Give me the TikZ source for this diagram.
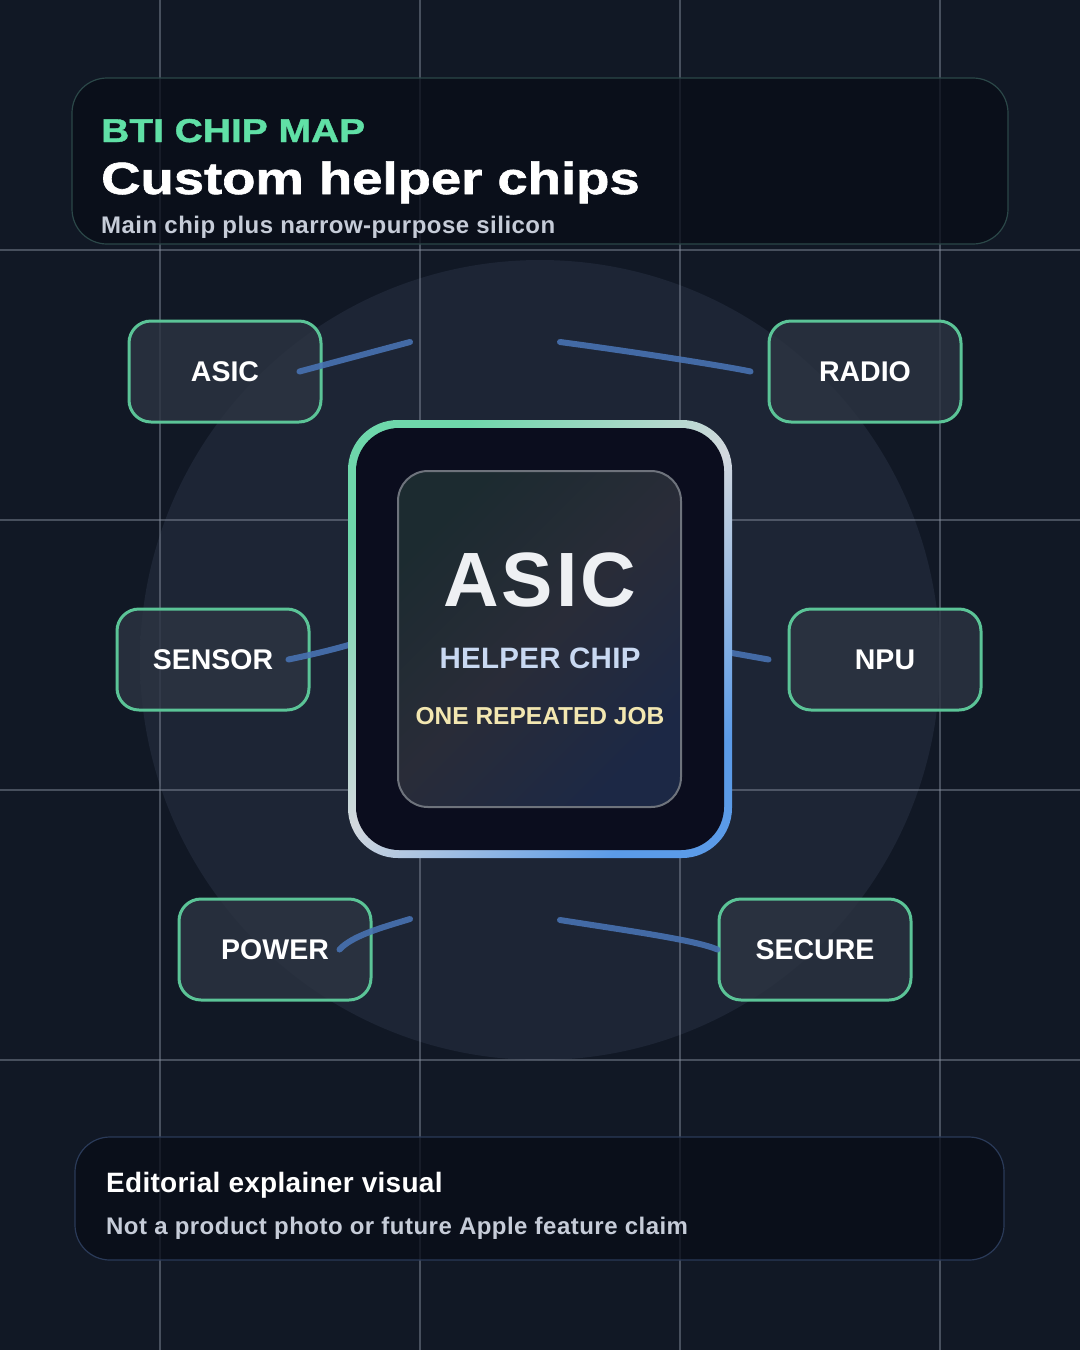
\documentclass[tikz,border=0pt]{standalone}
\usepackage{fontspec}
\setmainfont{Liberation Sans}
\newfontfamily\headfont[FakeStretch=1.18,BoldFeatures={FakeBold=1.2}]{Liberation Sans}
\newfontfamily\titlefont[FakeStretch=1.21,BoldFeatures={FakeBold=1.4}]{Liberation Sans}
\usepackage{tikz}
\usetikzlibrary{calc,shadings}
\usepackage{xcolor}
\definecolor{bgnavy}{HTML}{111825}
\definecolor{glowcore}{HTML}{1D2535}
\definecolor{gridgray}{HTML}{8A93A3}
\definecolor{mint}{HTML}{60E0A6}
\definecolor{softgray}{HTML}{C6CCD8}
\definecolor{panel}{HTML}{080C17}
\definecolor{headedge}{HTML}{2B4748}
\definecolor{footedge}{HTML}{2A3A58}
\definecolor{boxedge}{HTML}{5BC497}
\definecolor{boxfill}{HTML}{2C3442}
\definecolor{wireblue}{HTML}{4872B2}
\definecolor{chipnavy}{HTML}{0B0D1E}
\definecolor{chipgreen}{HTML}{6ED7AB}
\definecolor{chipsilver}{HTML}{D3D8DE}
\definecolor{chipblue}{HTML}{5B9BE8}
\definecolor{cardgreen}{HTML}{1C2B30}
\definecolor{cardmid}{HTML}{292C38}
\definecolor{cardblue}{HTML}{1C2845}
\definecolor{cardedge}{HTML}{6E737C}
\definecolor{chipwhite}{HTML}{EEF0F3}
\definecolor{paleblue}{HTML}{C9D9F2}
\definecolor{paleyellow}{HTML}{F3E7B1}
\pgfdeclareradialshading{glowdisc}{\pgfpoint{0bp}{0bp}}{color(0bp)=(glowcore); color(30bp)=(glowcore); color(50bp)=(bgnavy); color(100bp)=(bgnavy)}
\tikzstyle{gridline}=[gridgray, line width=1.4pt, opacity=0.45]
\tikzstyle{panelbox}=[fill=panel, fill opacity=0.75, line width=1.2pt, rounded corners=35pt]
\tikzstyle{chipbox}=[draw=boxedge, fill=boxfill, fill opacity=0.8, text opacity=1, line width=3pt, rounded corners=22pt, minimum width=192pt, minimum height=101pt, text=white, font=\bfseries\fontsize{28.5}{30}\selectfont]
\tikzstyle{wire}=[wireblue, line width=6pt, line cap=round, opacity=0.9]
\tikzstyle{chipring}=[inner sep=0, minimum width=384pt, minimum height=438pt, rounded corners=50pt, top color=chipgreen, bottom color=chipblue, middle color=chipsilver, shading angle=45]
\tikzstyle{chipcore}=[inner sep=0, fill=chipnavy, minimum width=368pt, minimum height=422pt, rounded corners=43pt]
\tikzstyle{chipcard}=[inner sep=0, draw=cardedge, line width=2pt, minimum width=283pt, minimum height=336pt, rounded corners=30pt, top color=cardgreen, bottom color=cardblue, middle color=cardmid, shading angle=45]
\tikzstyle{label}=[anchor=base west, inner sep=0]
\newcommand{\helperchip}[3]{
	\node[chipbox] (#1) at #2 {#3};
}

\begin{document}
\begin{tikzpicture}[x=1pt, y=-1pt]
	\useasboundingbox (0,0) rectangle (1080,1350);
	\fill[bgnavy] (0,0) rectangle (1080,1350);
	\shade[shading=glowdisc] (540,660) circle (400pt);
%
	\foreach \gx in {160,420,680,940}
		\draw[gridline] (\gx,0) -- (\gx,1350);
	\foreach \gy in {250,520,790,1060}
		\draw[gridline] (0,\gy) -- (1080,\gy);
%
	\filldraw[panelbox, draw=headedge] (72,78) rectangle (1008,244);
	\node[label, text=mint, font=\headfont\bfseries\fontsize{33}{36}\selectfont] (kicker) at (101,142) {BTI CHIP MAP};
	\node[label, text=white, font=\titlefont\bfseries\fontsize{45}{50}\selectfont] (headline) at (101,194) {Custom helper chips};
	\node[label, text=softgray, font=\bfseries\fontsize{24}{26}\selectfont\addfontfeature{LetterSpace=2}] (subline) at (101,233) {Main chip plus narrow-purpose silicon};
%
	\helperchip{asic}{(225,371.5)}{ASIC}
	\helperchip{radio}{(865,371.5)}{RADIO}
	\helperchip{sensor}{(213,659.5)}{SENSOR}
	\helperchip{npu}{(885,659.5)}{NPU}
	\helperchip{power}{(275,949.5)}{POWER}
	\helperchip{secure}{(815,949.5)}{SECURE}
%
	\coordinate (asicTip) at (410,342);
	\coordinate (radioTail) at (560,342);
	\coordinate (sensorTip) at (352,644);
	\coordinate (npuTail) at (732,653);
	\coordinate (powerTail) at (410,919);
	\coordinate (secureTail) at (560,920);
	\draw[wire] ([xshift=-23pt]asic.east) -- (asicTip);
	\draw[wire] (radioTail) .. controls (650,354) and (735,368) .. ([xshift=-17pt]radio.west);
	\draw[wire] ([xshift=-22pt]sensor.east) .. controls (315,654) and (335,649) .. (sensorTip);
	\draw[wire] (npuTail) -- ([xshift=-19pt]npu.west);
	\draw[wire] (powerTail) .. controls (380,928) and (352,936) .. ([xshift=-33pt]power.east);
	\draw[wire] (secureTail) .. controls (630,931) and (695,940) .. (secure.west);
%
	\node[chipring] (chip) at (540,639) {};
	\node[chipcore] (core) at (chip.center) {};
	\node[chipcard] (card) at (539.5,639) {};
	\node[anchor=base, inner sep=0, text=chipwhite, font=\bfseries\fontsize{77}{80}\selectfont\addfontfeature{LetterSpace=4}] (bigname) at (540,606) {ASIC};
	\node[anchor=base, inner sep=0, text=paleblue, font=\bfseries\fontsize{29.5}{32}\selectfont\addfontfeature{LetterSpace=1}] (role) at (540,668) {HELPER CHIP};
	\node[anchor=base, inner sep=0, text=paleyellow, font=\bfseries\fontsize{24.5}{28}\selectfont] (duty) at (540,724) {ONE REPEATED JOB};
%
	\filldraw[panelbox, draw=footedge] (75,1137) rectangle (1004,1260);
	\node[label, text=white, font=\bfseries\fontsize{28}{32}\selectfont\addfontfeature{LetterSpace=1}] (notehead) at (106,1192) {Editorial explainer visual};
	\node[label, text=softgray, font=\bfseries\fontsize{24}{28}\selectfont\addfontfeature{LetterSpace=2}] (notebody) at (106,1234) {Not a product photo or future Apple feature claim};
\end{tikzpicture}
\end{document}
